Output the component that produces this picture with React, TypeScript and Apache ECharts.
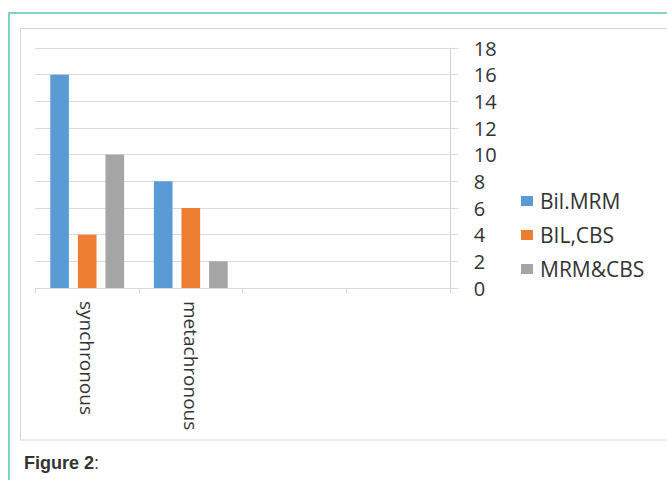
import React, { useEffect, useRef } from "react";
import * as echarts from "echarts";

const categories = ["synchronous", "metachronous", "", ""];
const seriesNames = ["Bil.MRM", "BIL,CBS", "MRM&CBS"];
const bilMrm = [16, 8];
const bilCbs = [4, 6];
const mrmCbs = [10, 2];
const yTicks = { min: 0, max: 18, interval: 2 };
const caption = "Figure 2";

const colors = ["#5B9BD5", "#ED7D31", "#A5A5A5"];
const FONT = "'Open Sans', 'Noto Sans', sans-serif";
const TEXT = "#333333";

export default function App() {
  const ref = useRef<HTMLDivElement>(null);
  useEffect(() => {
    document.body.style.margin = "0";
    if (!ref.current) return;
    const chart = echarts.init(ref.current, undefined, { renderer: "svg" });
    const values = [bilMrm, bilCbs, mrmCbs];
    chart.setOption({
      animation: false,
      backgroundColor: "#ffffff",
      color: colors,
      textStyle: { fontFamily: FONT },
      grid: { left: 35.4, right: 217.2, top: 48, bottom: 192, containLabel: false },
      legend: {
        orient: "vertical",
        left: 516,
        top: 184,
        itemWidth: 12,
        itemHeight: 10,
        itemGap: 10,
        icon: "rect",
        data: seriesNames,
        textStyle: {
          fontFamily: FONT,
          fontSize: 21,
          color: TEXT,
          lineHeight: 24,
          padding: [0, 0, 0, 2],
        },
      },
      xAxis: {
        type: "category",
        data: categories,
        boundaryGap: true,
        axisLine: { show: true, lineStyle: { color: "#d9d9d9", width: 1 } },
        axisTick: { show: true, length: 5, lineStyle: { color: "#d9d9d9" }, interval: 0 },
        axisLabel: {
          interval: 0,
          rotate: -90,
          margin: 13,
          color: TEXT,
          fontFamily: FONT,
          fontSize: 19,
        },
        splitLine: { show: false },
      },
      yAxis: {
        type: "value",
        position: "right",
        min: yTicks.min,
        max: yTicks.max,
        interval: yTicks.interval,
        axisLine: { show: true, lineStyle: { color: "#d0d0d0", width: 1 } },
        axisTick: { show: true, length: 8, inside: false, lineStyle: { color: "#d9d9d9" } },
        axisLabel: {
          margin: 24,
          color: TEXT,
          fontFamily: FONT,
          fontSize: 20,
        },
        splitLine: { show: true, lineStyle: { color: "#d9d9d9", width: 1 } },
      },
      series: seriesNames.map((name, i) => ({
        name,
        type: "bar",
        data: values[i],
        barWidth: "18%",
        barGap: "48%",
        itemStyle: { color: colors[i] },
      })),
      graphic: [
        {
          type: "line",
          shape: { x1: 9, y1: 13, x2: 667, y2: 13 },
          style: { stroke: "#7fd4c7", lineWidth: 2 },
          silent: true,
        },
        {
          type: "line",
          shape: { x1: 9, y1: 12, x2: 9, y2: 480 },
          style: { stroke: "#7fd4c7", lineWidth: 2 },
          silent: true,
        },
        {
          type: "rect",
          shape: { x: 20.5, y: 28.5, width: 700, height: 411.5 },
          style: { fill: "none", stroke: "#d6d6d6", lineWidth: 1 },
          silent: true,
          z: -1,
        },
        {
          type: "text",
          left: 24,
          top: 454,
          style: {
            text: "{b|" + caption + "}{n|:}",
            rich: {
              b: { fontFamily: "'Liberation Sans', Arial, sans-serif", fontWeight: "bold", fontSize: 18, fill: "#333333" },
              n: { fontFamily: "'Liberation Sans', Arial, sans-serif", fontWeight: "normal", fontSize: 18, fill: "#333333" },
            },
          },
          silent: true,
        },
      ],
    });
    return () => chart.dispose();
  }, []);
  return <div ref={ref} style={{ width: 667, height: 480 }} />;
}
